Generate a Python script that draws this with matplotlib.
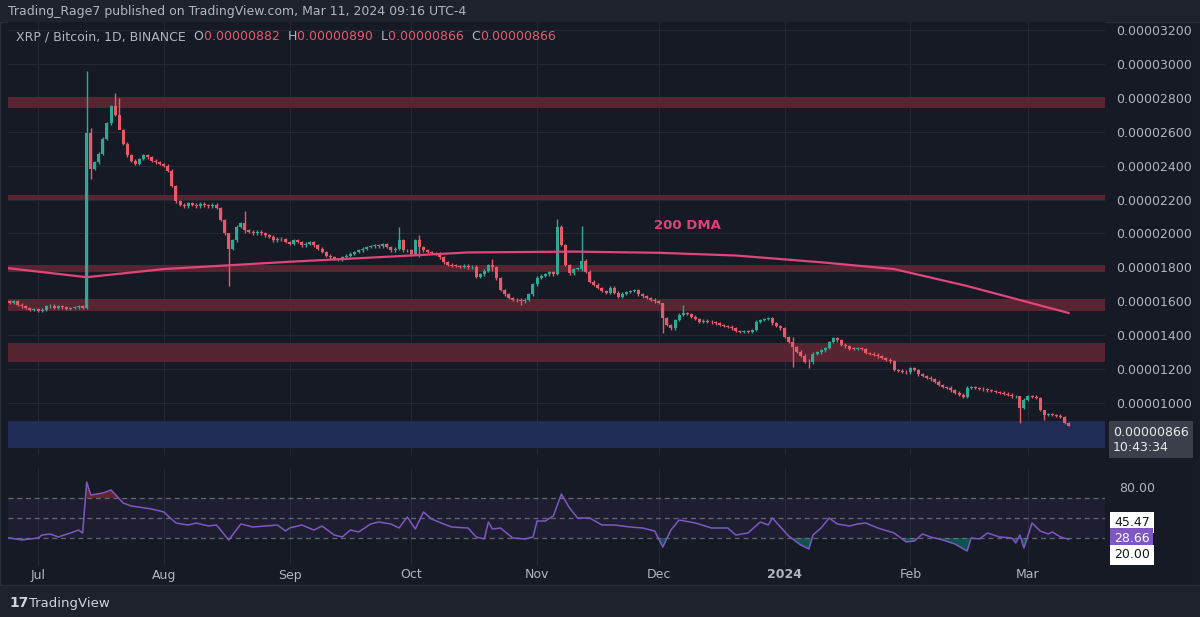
import matplotlib
matplotlib.use("Agg")
import matplotlib.pyplot as plt
import matplotlib.dates as mdates
import matplotlib.transforms as mtrans
import pandas as pd
import numpy as np

# ---------------- data (prices in units of 1e-8 BTC) ----------------
start_date = "2023-06-23"
close_jun = [1600, 1590, 1600, 1580, 1570, 1560, 1550, 1555]
close_jul = [1545, 1550, 1570, 1575, 1560, 1570, 1565, 1555, 1560, 1565, 1570, 1560,
             2590,
             2380, 2420, 2470, 2560, 2650, 2750, 2700, 2610, 2530, 2460, 2430, 2410,
             2440, 2460, 2450, 2430, 2420, 2410]
close_aug = [2400, 2370, 2280, 2190, 2170, 2160, 2180, 2170, 2160, 2175, 2165, 2160,
             2170, 2150, 2080, 2000, 1910, 1960, 2040, 2060, 2020, 2010, 2000, 2010,
             2000, 1990, 1980, 1960, 1970, 1965, 1950]
close_sep = [1940, 1960, 1950, 1930, 1940, 1950, 1930, 1910, 1890, 1870, 1860, 1850,
             1845, 1860, 1870, 1880, 1890, 1900, 1910, 1920, 1925, 1930, 1925, 1935,
             1920, 1900, 1910, 1960, 1900, 1900]
close_oct = [1880, 1960, 1920, 1900, 1890, 1885, 1880, 1860, 1830, 1815, 1810, 1808,
             1805, 1810, 1800, 1805, 1745, 1760, 1780, 1814, 1800, 1735, 1667, 1640,
             1620, 1610, 1605, 1600, 1610, 1640, 1700]
close_nov = [1740, 1750, 1760, 1770, 1760, 2040, 1932, 1814, 1765, 1790, 1790, 1840,
             1775, 1716, 1697, 1678, 1660, 1648, 1680, 1650, 1627, 1645, 1655, 1660,
             1665, 1640, 1630, 1620, 1610, 1600]
close_dec = [1590, 1500, 1460, 1440, 1490, 1520, 1530, 1525, 1510, 1495, 1480, 1485,
             1480, 1475, 1470, 1460, 1455, 1450, 1440, 1425, 1420, 1425, 1420, 1430,
             1480, 1490, 1495, 1500, 1470, 1455, 1440]
close_jan = [1390, 1362, 1330, 1303, 1280, 1244, 1240, 1290, 1300, 1310, 1324, 1360,
             1383, 1370, 1345, 1335, 1320, 1318, 1320, 1318, 1295, 1290, 1285, 1275,
             1265, 1255, 1245, 1195, 1190, 1185, 1180]
close_feb = [1205, 1195, 1170, 1160, 1150, 1140, 1125, 1107, 1095, 1090, 1075, 1060,
             1050, 1037, 1090, 1090, 1088, 1085, 1080, 1075, 1070, 1065, 1060, 1055,
             1050, 1040, 1040, 970, 1020]
close_mar = [1040, 1037, 1030, 959, 930, 935, 930, 925, 918, 882, 866]
first_open = 1590

# notable wicks: date -> (high, low)
wicks = {
    "2023-07-13": (2960, 1555), "2023-07-14": (2620, 2320), "2023-07-20": (2830, 2690),
    "2023-07-21": (2800, 2680), "2023-08-17": (2000, 1690), "2023-08-21": (2130, 2000),
    "2023-09-28": (2040, 1900), "2023-10-03": (1990, 1860), "2023-10-21": (1850, 1780),
    "2023-10-28": (1620, 1580), "2023-11-06": (2085, 1755), "2023-11-12": (2045, 1780),
    "2023-12-02": (1590, 1415), "2023-12-07": (1580, 1515), "2024-01-03": (1390, 1214),
    "2024-01-07": (1260, 1205), "2024-02-28": (1040, 882), "2024-03-05": (960, 900),
    "2024-03-11": (890, 866),
}

# 200 DMA readings
dma_dates = ["2023-06-23", "2023-07-13", "2023-08-01", "2023-09-01", "2023-10-01",
             "2023-10-15", "2023-11-10", "2023-12-01", "2023-12-20", "2024-01-10",
             "2024-01-28", "2024-02-15", "2024-03-11"]
dma_vals = [1797, 1742, 1790, 1833, 1870, 1888, 1893, 1886, 1870, 1830, 1790, 1690, 1531]

# RSI readings
rsi_dates = ["2023-06-23", "2023-06-24", "2023-06-27", "2023-07-01", "2023-07-02", "2023-07-04",
             "2023-07-06", "2023-07-09", "2023-07-11", "2023-07-12", "2023-07-13", "2023-07-14",
             "2023-07-17", "2023-07-19", "2023-07-22", "2023-07-24", "2023-07-29", "2023-08-01",
             "2023-08-04", "2023-08-07", "2023-08-09", "2023-08-12", "2023-08-14", "2023-08-17",
             "2023-08-20", "2023-08-23", "2023-08-26", "2023-08-29", "2023-08-31", "2023-09-01",
             "2023-09-04", "2023-09-07", "2023-09-09", "2023-09-12", "2023-09-14", "2023-09-16",
             "2023-09-18", "2023-09-21", "2023-09-23", "2023-09-26", "2023-09-28", "2023-09-30",
             "2023-10-02", "2023-10-04", "2023-10-06", "2023-10-09", "2023-10-11", "2023-10-15",
             "2023-10-17", "2023-10-19", "2023-10-20", "2023-10-21", "2023-10-23", "2023-10-26",
             "2023-10-29", "2023-10-31", "2023-11-01", "2023-11-03", "2023-11-05", "2023-11-07",
             "2023-11-09", "2023-11-11", "2023-11-14", "2023-11-17", "2023-11-20", "2023-11-24",
             "2023-11-27", "2023-11-30", "2023-12-02", "2023-12-04", "2023-12-06", "2023-12-10",
             "2023-12-14", "2023-12-18", "2023-12-20", "2023-12-23", "2023-12-26", "2023-12-28",
             "2023-12-29", "2024-01-02", "2024-01-05", "2024-01-07", "2024-01-08", "2024-01-10",
             "2024-01-12", "2024-01-14", "2024-01-17", "2024-01-19", "2024-01-21", "2024-01-24",
             "2024-01-28", "2024-01-31", "2024-02-02", "2024-02-04", "2024-02-06", "2024-02-09",
             "2024-02-12", "2024-02-15", "2024-02-16", "2024-02-18", "2024-02-20", "2024-02-23",
             "2024-02-26", "2024-02-27", "2024-02-28", "2024-02-29", "2024-03-02", "2024-03-04",
             "2024-03-06", "2024-03-07", "2024-03-09", "2024-03-11"]
rsi_vals = [30, 30, 28, 30, 33, 34, 31, 35, 38, 35, 86, 73, 75, 78, 65, 62, 59, 56,
            45, 43, 45, 42, 43, 28, 44, 41, 42, 43, 37, 40, 43, 38, 42, 33, 31, 38,
            36, 44, 46, 44, 40, 51, 39, 56, 49, 44, 41, 40, 31, 29, 46, 39, 40, 30,
            29, 31, 47, 47, 52, 74, 60, 50, 50, 43, 43, 41, 40, 37, 21, 38, 48, 45,
            40, 40, 33, 35, 46, 43, 50, 32, 23, 19, 33, 40, 50, 44, 42, 44, 45, 40,
            35, 26, 27, 34, 31, 28, 24, 17, 30, 29, 35, 31, 30, 25, 33, 20, 45, 37,
            34, 36, 31, 28.66]

price_ticks = [3200, 3000, 2800, 2600, 2400, 2200, 2000, 1800, 1600, 1400, 1200, 1000]
zones_red = [(2740, 2805), (2195, 2228), (1773, 1814), (1543, 1613), (1242, 1354)]
zone_blue = (735, 894)
month_labels = ["Jul", "Aug", "Sep", "Oct", "Nov", "Dec", "2024", "Feb", "Mar"]
month_dates = ["2023-07-01", "2023-08-01", "2023-09-01", "2023-10-01", "2023-11-01",
               "2023-12-01", "2024-01-01", "2024-02-01", "2024-03-01"]

# ---------------- build ----------------
closes = np.array(close_jun + close_jul + close_aug + close_sep + close_oct + close_nov +
                  close_dec + close_jan + close_feb + close_mar, dtype=float)
dates = pd.date_range(start_date, periods=len(closes), freq="D")
opens = np.concatenate([[first_open], closes[:-1]])
highs = np.maximum(opens, closes) + 8
lows = np.minimum(opens, closes) - 8
for d, (h, l) in wicks.items():
    i = dates.get_loc(pd.Timestamp(d))
    highs[i], lows[i] = h, l
x = mdates.date2num(dates)

W, H = 1200, 617
fig = plt.figure(figsize=(W / 100, H / 100), dpi=100, facecolor="#1e222d")

def px_axes(l, t, r, b):
    return fig.add_axes([l / W, 1 - b / H, (r - l) / W, (b - t) / H])

BG = "#161a25"
GRID = "#242833"
TXT = "#b2b5be"
UP = "#2bab96"
DN = "#e8596a"
FS = 9

xmin = mdates.date2num(pd.Timestamp("2023-07-01")) - 30 / 4.057
xmax = mdates.date2num(pd.Timestamp("2024-03-01")) + 77 / 4.057

bgax = px_axes(0, 22, 1200, 585)
bgax.set_facecolor(BG)
bgax.set_xticks([]); bgax.set_yticks([])
for s in bgax.spines.values():
    s.set_color("#2a2e39")

ax = px_axes(8, 22, 1105, 455)
ax.set_facecolor(BG)
ax.set_xlim(xmin, xmax)
ax.set_ylim(3200 - 433 / 0.16955 + 8 / 0.16955, 3200 + 8 / 0.16955)
for s in ax.spines.values():
    s.set_visible(False)
for p in price_ticks:
    ax.axhline(p, color=GRID, lw=0.8, zorder=0)
for md in month_dates:
    ax.axvline(mdates.date2num(pd.Timestamp(md)), color=GRID, lw=0.8, zorder=0)
for lo, hi in zones_red:
    ax.axhspan(lo, hi, color="#5b2532", alpha=0.95, lw=0, zorder=1)
ax.axhspan(zone_blue[0], zone_blue[1], color="#1f2c55", lw=0, zorder=1)

colors = np.where(closes >= opens, UP, DN)
ax.vlines(x, lows, highs, colors=colors, lw=1.0, zorder=3)
body_lo = np.minimum(opens, closes)
body_h = np.maximum(np.abs(closes - opens), 4)
ax.bar(x, body_h, bottom=body_lo, width=0.74, color=colors, lw=0, zorder=4)

ax.plot(mdates.date2num(pd.to_datetime(dma_dates)), dma_vals, color="#e0457b", lw=1.6, zorder=5)
ax.text(mdates.date2num(pd.Timestamp("2023-12-08")), 2044, "200 DMA", color="#d9437a",
        fontsize=9.5, fontweight="bold", ha="center", va="center", zorder=6)

ax.set_xticks([])
ax.yaxis.tick_right()
ax.set_yticks(price_ticks)
ax.set_yticklabels([f"{p * 1e-8:.8f}" for p in price_ticks], color=TXT, fontsize=FS)
ax.tick_params(axis="y", length=0, pad=8)

ax.text(1.0 + 8 / 1097, closes[-1], f"{closes[-1] * 1e-8:.8f}\n10:43:34", transform=ax.get_yaxis_transform(),
        color="#e8eaed", fontsize=FS, va="top", ha="left", linespacing=1.2, clip_on=False,
        bbox=dict(boxstyle="square,pad=0.35", fc="#3b3f4a", ec="none"))

# RSI panel
ax2 = px_axes(8, 468, 1105, 565)
ax2.set_facecolor(BG)
ax2.set_xlim(xmin, xmax)
ax2.set_ylim(3, 100)
for s in ax2.spines.values():
    s.set_visible(False)
for md in month_dates:
    ax2.axvline(mdates.date2num(pd.Timestamp(md)), color=GRID, lw=0.8, zorder=0)
ax2.axhspan(30, 70, color="#7e57c2", alpha=0.08, lw=0)
for lvl in (70, 50, 30):
    ax2.axhline(lvl, color="#787b86", lw=0.9, ls=(0, (4, 3)), alpha=0.8)
rx = mdates.date2num(pd.to_datetime(rsi_dates))
rv = np.array(rsi_vals, dtype=float)
ax2.plot(rx, rv, color="#7e57c2", lw=1.1, zorder=4)
ax2.fill_between(rx, 70, rv, where=rv > 70, interpolate=True, color="#f23645", alpha=0.35, lw=0)
ax2.fill_between(rx, 30, rv, where=rv < 30, interpolate=True, color="#089981", alpha=0.45, lw=0)
ax2.set_xticks([]); ax2.set_yticks([])
ax2.text(1.0 + 14 / 1097, 80, "80.00", transform=ax2.get_yaxis_transform(), color=TXT,
         fontsize=FS, va="center", ha="left", clip_on=False)
for val, yy, fc, tc in [(45.47, 45.47, "white", "#131722"), (28.66, 29.5, "#7e57c2", "white"),
                        (20.00, 13, "white", "#131722")]:
    ax2.text(1.0 + 9 / 1097, yy, f"{val:.2f}", transform=ax2.get_yaxis_transform(), color=tc,
             fontsize=FS, va="center", ha="left", clip_on=False,
             bbox=dict(boxstyle="square,pad=0.3", fc=fc, ec="none"))

tr = mtrans.blended_transform_factory(ax2.transData, fig.transFigure)
for lab, md in zip(month_labels, month_dates):
    ax2.text(mdates.date2num(pd.Timestamp(md)), 1 - 575 / H, lab, transform=tr, color=TXT,
             fontsize=FS, ha="center", va="center", fontweight="bold" if lab == "2024" else "normal")

fig.text(8 / W, 1 - 12 / H, "Trading_Rage7 published on TradingView.com, Mar 11, 2024 09:16 UTC-4",
         color="#b2b5be", fontsize=FS, va="center")
hx = 16 / W
hy = 1 - 37 / H
parts = [("XRP / Bitcoin, 1D, BINANCE  ", TXT), ("O", TXT), ("0.00000882  ", DN), ("H", TXT),
         ("0.00000890  ", DN), ("L", TXT), ("0.00000866  ", DN), ("C", TXT), ("0.00000866", DN)]
renderer = fig.canvas.get_renderer()
for t, c in parts:
    tt = fig.text(hx, hy, t, color=c, fontsize=FS, va="center")
    bb = tt.get_window_extent(renderer=renderer)
    hx += bb.width / W
fig.text(9 / W, 1 - 603 / H, "17", color="#d1d4dc", fontsize=10, fontweight="heavy", va="center")
fig.text(29 / W, 1 - 603 / H, "TradingView", color="#d1d4dc", fontsize=9.5, va="center")

fig.savefig("out.png", dpi=100, facecolor=fig.get_facecolor())
